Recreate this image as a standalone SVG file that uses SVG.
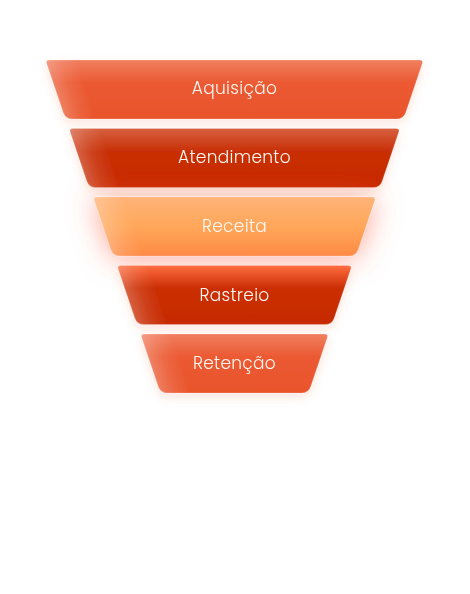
<svg xmlns="http://www.w3.org/2000/svg" xmlns:xlink="http://www.w3.org/1999/xlink" width="470" height="594" viewBox="0 0 470 594">
  <defs>
    <linearGradient id="gOrange" x1="0" y1="0" x2="0" y2="1">
      <stop offset="0" stop-color="#F17F60"/>
      <stop offset="0.38" stop-color="#EB5A33"/>
      <stop offset="1" stop-color="#E9542B"/>
    </linearGradient>
    <linearGradient id="gDark" x1="0" y1="0" x2="0" y2="1">
      <stop offset="0" stop-color="#D6603F"/>
      <stop offset="0.4" stop-color="#C82E06"/>
      <stop offset="1" stop-color="#C72B02"/>
    </linearGradient>
    <linearGradient id="gDark2" x1="0" y1="0" x2="0" y2="1">
      <stop offset="0" stop-color="#FF6D40"/>
      <stop offset="0.38" stop-color="#CB2F04"/>
      <stop offset="1" stop-color="#C72B02"/>
    </linearGradient>
    <linearGradient id="gLight" x1="0" y1="0" x2="0" y2="1">
      <stop offset="0" stop-color="#FFB377"/>
      <stop offset="0.5" stop-color="#FFA75A"/>
      <stop offset="1" stop-color="#FF8A46"/>
    </linearGradient>
    <linearGradient id="gSheen" gradientUnits="userSpaceOnUse" x1="8" y1="30" x2="38" y2="20">
      <stop offset="0" stop-color="#FFFFFF" stop-opacity="0.26"/>
      <stop offset="0.5" stop-color="#FFFFFF" stop-opacity="0.1"/>
      <stop offset="1" stop-color="#FFFFFF" stop-opacity="0"/>
    </linearGradient>
    <path id="sheen" d="M4,0 H44 L64,59 H27 Q20,59 17.75,52.4 L1.3,3.8 Q0,0 4,0Z" fill="url(#gSheen)"/>
    <filter id="fShadow" x="-20%" y="-50%" width="140%" height="220%">
      <feDropShadow dx="0" dy="4" stdDeviation="5" flood-color="#E9552D" flood-opacity="0.16"/>
    </filter>
    <filter id="fGlow" x="-30%" y="-120%" width="160%" height="340%">
      <feDropShadow dx="0" dy="2" stdDeviation="14" flood-color="#FF5A3A" flood-opacity="0.55"/>
    </filter>
  </defs>
  <style>
    .shape { stroke: #FFFFFF; stroke-opacity: 0.28; stroke-width: 0.8; }
    .label { font-family: "Poppins", Inter, "Open Sans", "Liberation Sans", sans-serif; font-weight: 300; font-size: 17px; letter-spacing: 0.3px; fill: #FFF8F2; text-anchor: middle; }
  </style>

  <g id="node-aquisicao" filter="url(#fShadow)">
    <path class="shape" fill="url(#gOrange)" d="M49.5,60 H419.5 Q423.5,60 422.2,63.8 L405.75,112.4 Q403.5,119 396.5,119 H72.5 Q65.5,119 63.25,112.4 L46.8,63.8 Q45.5,60 49.5,60Z"/>
    <use xlink:href="#sheen" href="#sheen" transform="translate(45.5,60)"/>
    <text class="label" x="234.5" y="94">Aquisição</text>
  </g>

  <g id="node-atendimento" filter="url(#fShadow)">
    <path class="shape" fill="url(#gDark)" d="M73,128.5 H396 Q400,128.5 398.7,132.3 L382.25,180.9 Q380,187.5 373,187.5 H96 Q89,187.5 86.75,180.9 L70.3,132.3 Q69,128.5 73,128.5Z"/>
    <use xlink:href="#sheen" href="#sheen" transform="translate(69,128.5)"/>
    <text class="label" x="234.5" y="163">Atendimento</text>
  </g>

  <g id="node-receita" filter="url(#fGlow)">
    <path class="shape" fill="url(#gLight)" d="M97,197 H372 Q376,197 374.7,200.8 L358.25,249.4 Q356,256 349,256 H120 Q113,256 110.75,249.4 L94.3,200.8 Q93,197 97,197Z"/>
    <use xlink:href="#sheen" href="#sheen" transform="translate(93,197)"/>
    <text class="label" x="234.5" y="231.5">Receita</text>
  </g>

  <g id="node-rastreio" filter="url(#fShadow)">
    <path class="shape" fill="url(#gDark2)" d="M121,265.5 H348 Q352,265.5 350.7,269.3 L334.25,317.9 Q332,324.5 325,324.5 H144 Q137,324.5 134.75,317.9 L118.3,269.3 Q117,265.5 121,265.5Z"/>
    <use xlink:href="#sheen" href="#sheen" transform="translate(117,265.5)"/>
    <text class="label" x="234.5" y="300.5">Rastreio</text>
  </g>

  <g id="node-retencao" filter="url(#fShadow)">
    <path class="shape" fill="url(#gOrange)" d="M144.5,334 H324.5 Q328.5,334 327.2,337.8 L310.75,386.4 Q308.5,393 301.5,393 H167.5 Q160.5,393 158.25,386.4 L141.8,337.8 Q140.5,334 144.5,334Z"/>
    <use xlink:href="#sheen" href="#sheen" transform="translate(140.5,334)"/>
    <text class="label" x="234.5" y="369">Retenção</text>
  </g>
</svg>
